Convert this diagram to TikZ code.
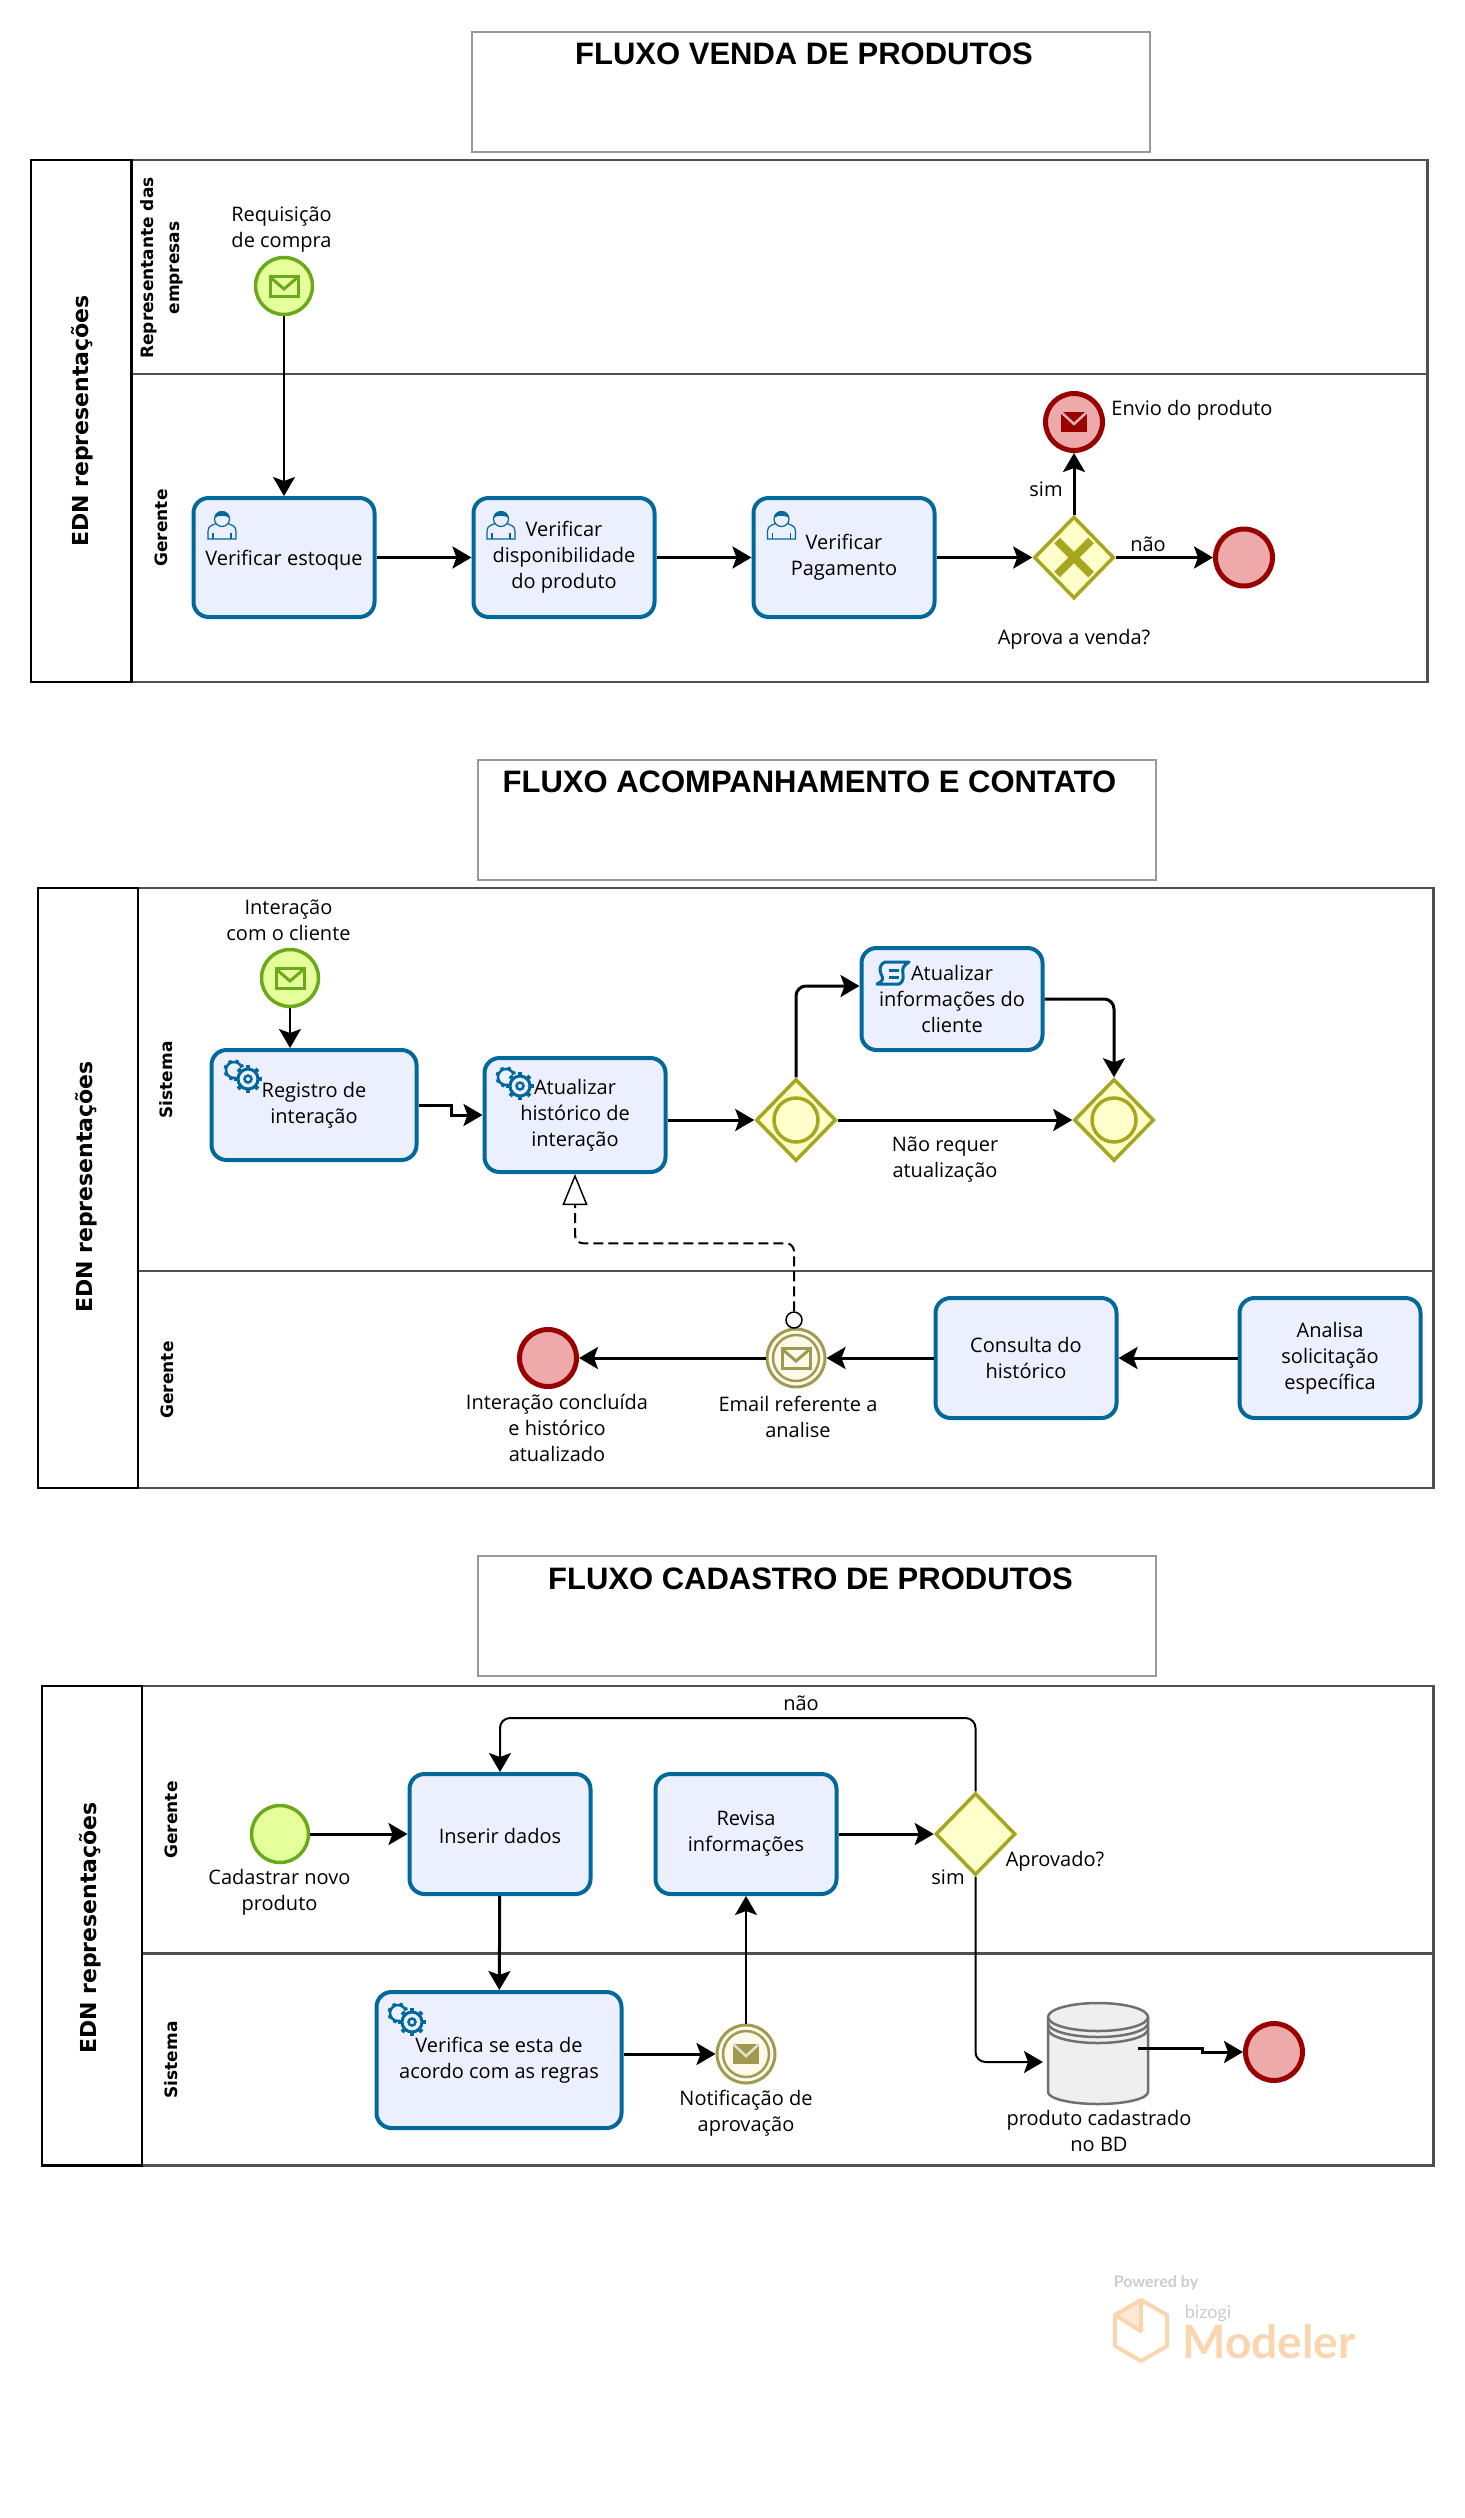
\documentclass[tikz,border=0pt]{standalone}
\usepackage{fontspec}
\setmainfont{Open Sans}
\newfontfamily\lanefont{DejaVu Sans}
\newfontfamily\titlefont{Liberation Sans}
\newfontfamily\markfont{Lato}
\usetikzlibrary{arrows.meta,shapes.geometric,calc}
\definecolor{taskline}{HTML}{00689B}
\definecolor{taskfill}{HTML}{ECEFFE}
\definecolor{startline}{HTML}{6BA91B}
\definecolor{startfill}{HTML}{E5FF9C}
\definecolor{endline}{HTML}{990000}
\definecolor{endfill}{HTML}{EEAAAA}
\definecolor{gateline}{HTML}{A6A61F}
\definecolor{gatefill}{HTML}{FFFFCC}
\definecolor{interline}{HTML}{A09A50}
\definecolor{interfill}{HTML}{FFF9EC}
\definecolor{poolline}{HTML}{505050}
\definecolor{titleline}{HTML}{999999}
\definecolor{dbline}{HTML}{707070}
\definecolor{dbfill}{HTML}{EFEFEF}
\definecolor{markorange}{HTML}{F9D6B0}
\definecolor{markgrey}{HTML}{CCCCCC}
\tikzset{
  task/.style={draw=taskline,fill=taskfill,line width=4pt,rounded corners=15pt,align=center,inner sep=0pt,minimum width=181pt,minimum height=119pt,font=\fontsize{20}{26}\selectfont,execute at begin node={\rule{0pt}{20pt}}},
  startev/.style={circle,draw=startline,fill=startfill,line width=3.5pt,minimum size=57pt,inner sep=0pt},
  endev/.style={circle,draw=endline,fill=endfill,line width=5pt,minimum size=57pt,inner sep=0pt},
  interev/.style={circle,draw=interline,fill=interfill,line width=3pt,minimum size=58pt,inner sep=0pt},
  gate/.style={diamond,aspect=1,draw=gateline,fill=gatefill,line width=3.5pt,minimum width=80pt,minimum height=82pt,inner sep=0pt},
  evlabel/.style={align=center,inner sep=0pt,font=\fontsize{20}{26}\selectfont},
  titlebox/.style={draw=titleline,line width=2.5pt,minimum width=678pt,minimum height=120pt,inner sep=0pt},
  titletext/.style={inner sep=0pt,font=\titlefont\bfseries\fontsize{31}{31}\selectfont},
  poolname/.style={rotate=90,align=center,inner sep=0pt,font=\lanefont\bfseries\fontsize{22}{22}\selectfont},
  lanename/.style={rotate=90,align=center,inner sep=0pt,font=\lanefont\bfseries\fontsize{17}{26}\selectfont},
  pool/.style={draw=poolline,line width=2.5pt},
  poolstrip/.style={draw=black,line width=2.5pt},
  flow/.style={-{Stealth[length=19pt,width=22pt,inset=4pt]},line width=3pt},
  flowthin/.style={-{Stealth[length=19pt,width=22pt,inset=4pt]},line width=2pt},
  assoc/.style={-{Triangle[open,length=31pt,width=25pt,fill=white,line width=1.5pt]},line width=2pt,dash pattern=on 10pt off 5pt,rounded corners=8pt},
  asscirc/.style={circle,draw=black,fill=white,line width=1.5pt,minimum size=16pt,inner sep=0pt},
  pics/envopen/.style={code={
    \draw[draw=#1,line width=3pt] (-14,-10) rectangle (14,10);
    \draw[draw=#1,line width=3pt] (-14,-9) -- (0,3) -- (14,-9);}},
  pics/envsolid/.style={code={
    \fill[#1] (-13,-10) rectangle (13,10);
    \draw[white!70!#1,line width=2.5pt] (-13,-10) -- (0,2) -- (13,-10);}},
  pics/person/.style={code={
    \draw[taskline,line width=1.2pt,fill=taskfill] (-14,14) -- (-14,6) .. controls (-14,0) and (-8,0) .. (-5,-2) -- (5,-2) .. controls (8,0) and (14,0) .. (14,6) -- (14,14) -- cycle;
    \draw[taskline,line width=1.2pt] (-9,14) -- (-9,8) (9,14) -- (9,8);
    \draw[taskline,line width=1.2pt,fill=taskfill] (0,-6) circle (7.5pt);
    \fill[taskline] (-7.5,-7) .. controls (-7,-16) and (7,-16) .. (7.5,-7) .. controls (4,-10) and (-4,-10) .. (-7.5,-7);}},
  pics/gear/.style={code={
    \begin{scope}[shift={(-14,-9)}]
    \foreach \a in {0,45,...,315} \draw[taskline,line width=3.5pt] (\a+20:7) -- (\a+20:10.5);
    \draw[taskline,line width=2.5pt,fill=taskfill] (0,0) circle (8pt);
    \end{scope}
    \fill[taskfill] (0,0) circle (13pt);
    \foreach \a in {0,45,...,315} \draw[taskline,line width=4pt] (\a:9) -- (\a:14);
    \draw[taskline,line width=3pt,fill=taskfill] (0,0) circle (10pt);
    \draw[taskline,line width=2.5pt,fill=taskfill] (0,0) circle (3.5pt);}},
  pics/script/.style={code={
    \draw[taskline,line width=3pt,line join=round,fill=taskfill] (-7,-12) -- (17,-12) .. controls (11,-8) and (10,-6) .. (11,0) .. controls (12,5) and (10,9) .. (7,10) -- (-15,10) .. controls (-9,7) and (-8,5) .. (-11,0) .. controls (-13,-5) and (-12,-10) .. (-7,-12) -- cycle;
    \draw[taskline,line width=3pt] (-3,-4) -- (7,-4) (-3,3) -- (7,3);}},
}
\begin{document}
\begin{tikzpicture}[x=1pt,y=-1pt]
\useasboundingbox (0,0) rectangle (1464,2518);
\draw[pool] (131.5,160) rectangle (1427.5,682) (131.5,374) -- (1427.5,374);
\draw[poolstrip] (131.5,160) rectangle (31,682);
\draw[pool] (138,888) rectangle (1433.5,1488) (138,1271) -- (1433.5,1271);
\draw[poolstrip] (138,888) rectangle (38,1488);
\draw[pool] (142,1686) rectangle (1433.5,2165.5) (142,1953.5) -- (1433.5,1953.5);
\draw[poolstrip] (142,1686) rectangle (42,2165.5);
\node[titlebox] (boxvenda) at (811,92) {};
\node[titletext] (titvenda) at (804,54) {FLUXO VENDA DE PRODUTOS};
\node[titlebox] (boxcontato) at (817,820) {};
\node[titletext] (titcontato) at (809.5,782) {FLUXO ACOMPANHAMENTO E CONTATO};
\node[titlebox] (boxcadastro) at (817,1616) {};
\node[titletext] (titcadastro) at (810.5,1579) {FLUXO CADASTRO DE PRODUTOS};
\node[poolname] (pvenda) at (82,421) {EDN representações};
\node[lanename] (lrepr) at (162,268) {Representante das\\empresas};
\node[lanename] (lgervenda) at (161.5,528) {Gerente};
\node[poolname] (pcontato) at (86,1187) {EDN representações};
\node[lanename] (lsiscontato) at (166,1080) {Sistema};
\node[lanename] (lgercontato) at (167,1380) {Gerente};
\node[poolname] (pcadastro) at (90,1928) {EDN representações};
\node[lanename] (lgercadastro) at (171,1820) {Gerente};
\node[lanename] (lsiscadastro) at (171,2060) {Sistema};
\node[startev] (startvenda) at (284,286) {};
\pic at (startvenda) {envopen=startline};
\node[evlabel] (lbstartvenda) at (281.5,229.5) {Requisição\\de compra};
\node[task] (vestoque) at (284,557.5) {Verificar estoque};
\node[task] (vdispon) at (564,557.5) {Verificar\\disponibilidade\\do produto};
\node[task] (vpagam) at (844,557.5) {Verificar\\Pagamento};
\pic at (222,525) {person};
\pic at (501,525) {person};
\pic at (781.5,525) {person};
\node[gate] (gatevenda) at (1074,557.5) {};
\draw[gateline,line width=8pt] (1057,540.5) -- (1091,574.5) (1091,540.5) -- (1057,574.5);
\node[endev] (envio) at (1074,422) {};
\pic at (envio) {envsolid=endline};
\node[endev] (endvenda) at (1244,557.5) {};
\node[evlabel] (lbenvio) at (1192,410) {Envio do produto};
\node[evlabel] (lbsim) at (1046,489) {sim};
\node[evlabel] (lbnao) at (1148,544) {não};
\node[evlabel] (lbgate) at (1074,639) {Aprova a venda?};
\draw[flowthin] (startvenda) -- (vestoque);
\draw[flow] (vestoque) -- (vdispon);
\draw[flow] (vdispon) -- (vpagam);
\draw[flow] (vpagam) -- (gatevenda);
\draw[flow] (gatevenda) -- (envio);
\draw[flow] (gatevenda) -- (endvenda);
\node[startev] (startcontato) at (290,978) {};
\pic at (startcontato) {envopen=startline};
\node[evlabel] (lbstartcontato) at (288.5,920) {Interação\\com o cliente};
\node[task,minimum width=205pt,minimum height=110pt] (registro) at (314,1105) {Registro de\\interação};
\node[task,minimum height=114pt] (historico) at (575,1115) {Atualizar\\histórico de\\interação};
\node[task,minimum height=102pt] (informa) at (952,999) {Atualizar\\informações do\\cliente};
\pic at (248,1079) {gear};
\pic at (520,1086) {gear};
\pic at (892,974) {script};
\node[gate] (gateabre) at (796,1120) {};
\node[gate] (gatefecha) at (1114,1120) {};
\draw[gateline,line width=3.5pt] (gateabre) circle (22pt) (gatefecha) circle (22pt);
\node[evlabel] (lbnaoreq) at (945,1160) {Não requer\\atualização};
\node[task,minimum height=120pt] (analisa) at (1330,1358) {Analisa\\solicitação\\específica};
\node[task,minimum height=120pt] (consulta) at (1026,1358) {Consulta do\\histórico};
\node[interev] (email) at (796,1358) {};
\draw[interline,line width=2.5pt] (email) circle (23pt);
\pic at (email) {envopen=interline};
\node[asscirc] (ligacao) at (794,1320) {};
\node[endev] (endcontato) at (548,1358) {};
\node[evlabel] (lbemail) at (798,1416.5) {Email referente a\\analise};
\node[evlabel] (lbendcontato) at (557,1427.5) {Interação concluída\\e histórico\\atualizado};
\draw[flowthin] (startcontato.south) -- (startcontato.south |- registro.north);
\draw[flow] (registro.east) -- ++(33,0) |- (historico.west);
\draw[flow] (historico.east |- gateabre.west) -- (gateabre.west);
\draw[flow,rounded corners=10pt] (gateabre.north) |- (informa.172);
\draw[flow,rounded corners=10pt] (informa.east) -| (gatefecha.north);
\draw[flow] (gateabre) -- (gatefecha);
\draw[flow] (analisa) -- (consulta);
\draw[flow] (consulta) -- (email);
\draw[flow] (email) -- (endcontato);
\draw[assoc] (ligacao.north) -- ++(0,-68) -| (historico.south);
\node[startev] (startcadastro) at (280,1834) {};
\node[evlabel] (lbstartcadastro) at (279.5,1892.5) {Cadastrar novo\\produto};
\node[task,minimum height=120pt] (inserir) at (500,1834) {Inserir dados};
\node[task,minimum height=120pt] (revisa) at (746,1834) {Revisa\\informações};
\node[gate] (gateaprova) at (975.5,1834) {};
\node[evlabel] (lbaprova) at (1055,1861) {Aprovado?};
\node[evlabel] (lbsimcad) at (948,1877) {sim};
\node[evlabel] (lbnaocad) at (801,1703.5) {não};
\node[task,minimum width=245pt,minimum height=136pt] (verifica) at (499,2060) {Verifica se esta de\\acordo com as regras};
\pic at (412,2022) {gear};
\node[interev] (notifica) at (746,2054) {};
\draw[interline,line width=2.5pt] (notifica) circle (23pt);
\pic at (notifica) {envsolid=interline};
\node[evlabel] (lbnotifica) at (746,2113) {Notificação de\\aprovação};
\draw[draw=dbline,fill=dbfill,line width=2.5pt] (1048,2017) -- (1048,2092) arc[x radius=50pt,y radius=12pt,start angle=180,end angle=360] -- (1148,2017);
\draw[draw=dbline,fill=dbfill,line width=2.5pt] (1098,2017) ellipse [x radius=50pt,y radius=14pt];
\draw[draw=dbline,line width=2.5pt] (1048,2023) arc[x radius=50pt,y radius=14pt,start angle=180,end angle=360] (1048,2029) arc[x radius=50pt,y radius=14pt,start angle=180,end angle=360];
\coordinate (bdentra) at (1043,2062);
\coordinate (bdsai) at (1138,2048);
\node[evlabel] (lbbd) at (1099,2130.5) {produto cadastrado\\no BD};
\node[endev] (endcadastro) at (1274,2052) {};
\draw[flow] (startcadastro) -- (inserir);
\draw[flow] (inserir) -- (verifica);
\draw[flow] (verifica.east |- notifica.west) -- (notifica.west);
\draw[flowthin] (notifica.north) -- (revisa.south);
\draw[flow] (revisa) -- (gateaprova);
\draw[flowthin,rounded corners=10pt] (gateaprova.north) |- (600,1718) -| (inserir.north);
\draw[flowthin,rounded corners=10pt] (gateaprova.south) |- (bdentra);
\draw[flow] (bdsai) -- ++(64,0) |- (endcadastro.west);
\fill[markorange!55] (1141,2300) -- (1115,2315) -- (1141,2331) -- cycle;
\draw[draw=markorange,line width=4pt,line join=round] (1141,2300) -- (1167,2315) -- (1167,2346) -- (1141,2361) -- (1115,2346) -- (1115,2315) -- cycle;
\draw[draw=markorange,line width=4pt,line join=round] (1115,2315) -- (1141,2331) -- (1141,2300);
\node[inner sep=0pt,text=markgrey,font=\markfont\bfseries\fontsize{16}{16}\selectfont] (powered) at (1156,2283) {Powered by};
\node[inner sep=0pt,text=markgrey,font=\markfont\fontsize{18}{18}\selectfont] (bizogi) at (1208,2313) {bizogi};
\node[inner sep=0pt,text=markorange,font=\markfont\bfseries\fontsize{46}{46}\selectfont] (modeler) at (1269,2342) {Modeler};
\end{tikzpicture}
\end{document}
